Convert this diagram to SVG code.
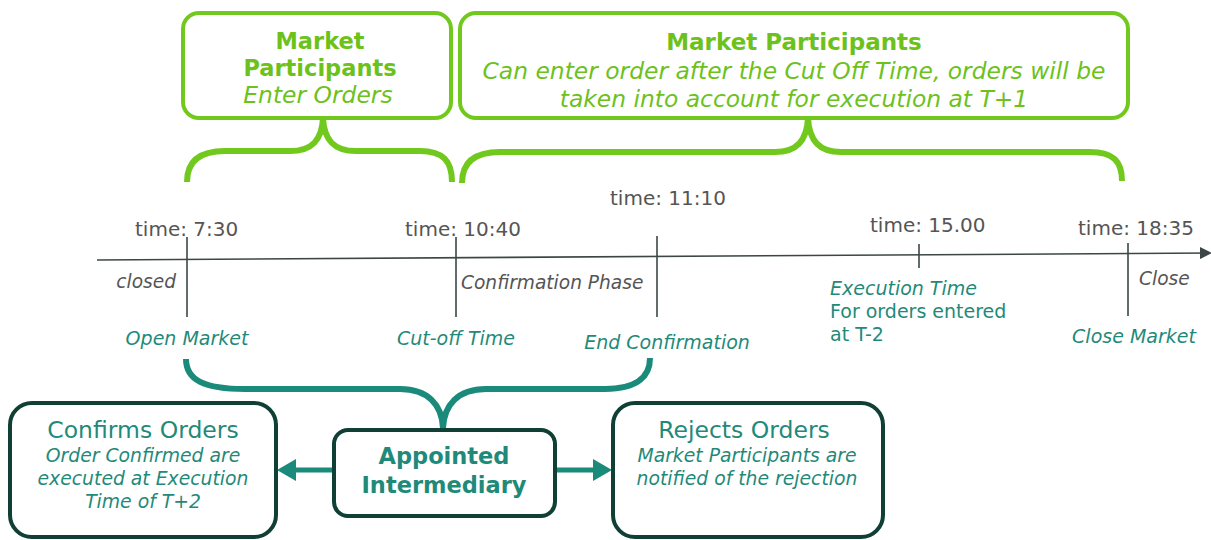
<svg xmlns="http://www.w3.org/2000/svg" width="1211" height="540" viewBox="0 0 1211 540">
<style>
text{font-family:"DejaVu Sans","Liberation Sans",sans-serif}
.lime{fill:#6cc21a}
.gbox{fill:#fff;stroke:#72c91e;stroke-width:4}
.dbox{fill:#fff;stroke:#0f3f35;stroke-width:4}
.lbrace{fill:none;stroke:#72c91e;stroke-width:6;stroke-linecap:butt}
.tbrace{fill:none;stroke:#1a8a7a;stroke-width:6}
.axis{stroke:#3c4646;stroke-width:1.6;fill:none}
.gray{fill:#555;font-size:20px}
.grayi{fill:#555;font-size:18.6px;font-style:italic}
.teal{fill:#1f8a7a}
.tl{fill:#1f8a7a;font-size:19px;font-style:italic}
.ttl{fill:#1f8a7a;font-size:23.5px}
.sub{fill:#1f8a7a;font-size:18.8px;font-style:italic}
.arr{stroke:#1a8a7a;stroke-width:5}
</style>
<defs>
<marker id="ah" markerWidth="12" markerHeight="12" refX="10" refY="6" orient="auto" markerUnits="userSpaceOnUse" viewBox="0 0 12 12">
<path d="M0,0 L12,6 L0,12 z" fill="#3c4646"/>
</marker>
</defs>

<g id="box-enter-orders">
<rect class="gbox" x="183" y="13" width="268" height="105" rx="16"/>
<text class="lime" x="320" y="49" text-anchor="middle" font-size="22.5" font-weight="bold">Market</text>
<text class="lime" x="320" y="76" text-anchor="middle" font-size="22.5" font-weight="bold">Participants</text>
<text class="lime" x="318" y="103" text-anchor="middle" font-size="23.4" font-style="italic">Enter Orders</text>
</g>

<g id="box-after-cutoff">
<rect class="gbox" x="460" y="13" width="668" height="105" rx="16"/>
<text class="lime" x="794" y="50" text-anchor="middle" font-size="23" font-weight="bold">Market Participants</text>
<text class="lime" x="794" y="79" text-anchor="middle" font-size="23.4" font-style="italic">Can enter order after the Cut Off Time, orders will be</text>
<text class="lime" x="794" y="107" text-anchor="middle" font-size="23.4" font-style="italic">taken into account for execution at T+1</text>
</g>

<g id="connectors">
<path class="lbrace" d="M187,182 C187,162 199,151 225,151 L290,151 C312,151 322,140 323,118 C324,140 334,151 356,151 L420,151 C443,151 452,161 452,182"/>
<path class="lbrace" d="M462,183 C462,163 474,152 500,152 L775,152 C797,152 807,140 808,118 C809,140 819,152 841,152 L1090,152 C1113,152 1122,161 1122,181"/>
<path class="tbrace" d="M186,359 C186,380 204,389 245,389 L400,389 C428,389 442,405 443,428 C444,405 458,389 486,389 L605,389 C638,389 650,376 650,358"/>
<line class="axis" x1="97" y1="260" x2="1210" y2="253" marker-end="url(#ah)"/>
<line class="axis" x1="187" y1="237" x2="187" y2="317"/>
<line class="axis" x1="456" y1="237" x2="456" y2="317"/>
<line class="axis" x1="657" y1="236" x2="657" y2="317"/>
<line class="axis" x1="919" y1="244" x2="919" y2="268"/>
<line class="axis" x1="1128" y1="243" x2="1128" y2="316"/>
<line class="arr" x1="334" y1="470" x2="292" y2="470"/>
<polygon points="277,470 296,459 296,481" fill="#1a8a7a"/>
<line class="arr" x1="555" y1="470" x2="597" y2="470"/>
<polygon points="612,470 593,459 593,481" fill="#1a8a7a"/>
</g>

<g id="timeline-labels">
<text class="gray" x="135" y="236">time: 7:30</text>
<text class="gray" x="405" y="236">time: 10:40</text>
<text class="gray" x="610" y="205">time: 11:10</text>
<text class="gray" x="870" y="232">time: 15.00</text>
<text class="gray" x="1078" y="235">time: 18:35</text>
<text class="grayi" x="176" y="288" text-anchor="end">closed</text>
<text class="grayi" x="461" y="289">Confirmation Phase</text>
<text class="grayi" x="1139" y="285">Close</text>
<text class="tl" x="187" y="345" text-anchor="middle">Open Market</text>
<text class="tl" x="456" y="345" text-anchor="middle">Cut-off Time</text>
<text class="tl" x="667" y="349" text-anchor="middle">End Confirmation</text>
<text class="tl" x="1134" y="343" text-anchor="middle">Close Market</text>
<text class="tl" x="830" y="295">Execution Time</text>
<text class="teal" x="830" y="318" font-size="19">For orders entered</text>
<text class="teal" x="830" y="341" font-size="19">at T-2</text>
</g>

<g id="box-confirms">
<rect class="dbox" x="10" y="403" width="266" height="134" rx="22"/>
<text class="ttl" x="143" y="438" text-anchor="middle">Confirms Orders</text>
<text class="sub" x="143" y="462" text-anchor="middle">Order Confirmed are</text>
<text class="sub" x="143" y="485" text-anchor="middle">executed at Execution</text>
<text class="sub" x="143" y="508" text-anchor="middle">Time of T+2</text>
</g>

<g id="box-appointed">
<rect class="dbox" x="334" y="430" width="221" height="86" rx="14"/>
<text class="teal" x="444" y="464" text-anchor="middle" font-size="22.5" font-weight="bold">Appointed</text>
<text class="teal" x="444" y="493" text-anchor="middle" font-size="22.5" font-weight="bold">Intermediary</text>
</g>

<g id="box-rejects">
<rect class="dbox" x="613" y="403" width="270" height="134" rx="22"/>
<text class="ttl" x="744" y="438" text-anchor="middle">Rejects Orders</text>
<text class="sub" x="747" y="462" text-anchor="middle">Market Participants are</text>
<text class="sub" x="747" y="485" text-anchor="middle">notified of the rejection</text>
</g>
</svg>
